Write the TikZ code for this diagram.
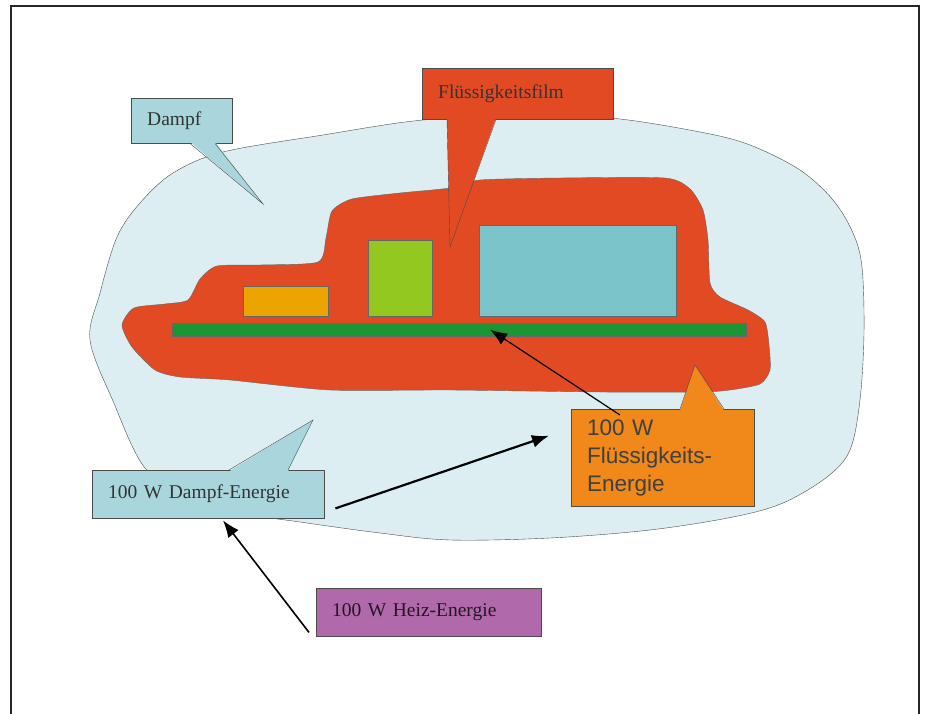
\documentclass[tikz,border=0pt]{standalone}
\usepackage{fontspec}
\setmainfont{Liberation Serif}
\newfontfamily\arialfont{Liberation Sans}
\usetikzlibrary{shapes,arrows.meta,calc}
\definecolor{vapour}{RGB}{221,238,242}
\definecolor{callcyan}{RGB}{168,214,220}
\definecolor{film}{RGB}{226,74,36}
\definecolor{partyellow}{RGB}{236,164,0}
\definecolor{partlime}{RGB}{146,200,32}
\definecolor{partteal}{RGB}{122,196,202}
\definecolor{plategreen}{RGB}{28,150,52}
\definecolor{callorange}{RGB}{240,136,26}
\definecolor{callpurple}{RGB}{176,106,172}
\tikzstyle{callbox} = [rectangle, draw=black!70, fill=callcyan, anchor=north west,
    inner xsep=16pt, inner ysep=0pt, align=left, text=black!80,
    font=\fontsize{19.5}{21}\selectfont]
\tikzstyle{part} = [rectangle, draw=black!60, anchor=north west, inner sep=0pt]
\tikzstyle{line} = [draw, -{Latex[length=17pt, width=13pt]}]

\begin{document}
\begin{tikzpicture}[x=1pt, y=-1pt]
		\useasboundingbox (0,0) rectangle (930,714);
		\draw[line width=1.2pt, black!85] (11,714) -- (11,6) -- (919,6) -- (919,714);

		% vapour around the board
		\filldraw[fill=vapour, draw=black!70, thin] plot[smooth cycle, tension=0.55] coordinates {
			(100,293) (117,237) (140,203) (173,173) (223,152) (323,135) (423,120)
			(520,117) (610,118) (700,132) (750,145) (800,170) (833,200) (853,233)
			(862,267) (864,333) (860,400) (850,450) (827,477) (783,503) (733,517)
			(650,530) (550,538) (450,540) (380,533) (300,522) (257,515) (190,495)
			(145,468) (113,401) (90,340)};
		% liquid film
		\filldraw[fill=film, draw=black!60, thin] plot[smooth cycle, tension=0.4] coordinates {
			(122,325) (134,308) (165,304) (188,300) (200,279) (217,266) (260,265)
			(318,262) (326,238) (332,211) (352,199) (400,193) (450,188) (480,180)
			(560,178) (665,178) (690,189) (703,210) (708,240) (710,283) (720,297)
			(748,310) (765,322) (769,345) (770,370) (760,384) (730,390) (700,392)
			(600,392) (450,390) (330,390) (230,380) (180,377) (155,370) (132,347)};

		% parts on the board
		\node[part, fill=partyellow, minimum width=85pt, minimum height=30pt] (small) at (243,286) {};
		\node[part, fill=partlime, minimum width=64pt, minimum height=76pt] (middle) at (368,240) {};
		\node[part, fill=partteal, minimum width=197pt, minimum height=91pt] (big) at (479,225) {};
		\node[part, fill=plategreen, minimum width=574pt, minimum height=13pt] (plate) at (172,323) {};

		% callouts
		\node[callbox, text width=69pt, minimum height=45pt] (dampf) at (131,98) {Dampf};
		\fill[callcyan] ($(dampf.south west)+(59,-1.5)$) -- (263,204) -- ($(dampf.south west)+(84,-1.5)$) -- cycle;
		\draw[black!70, thin] ($(dampf.south west)+(59,0)$) -- (263,204) -- ($(dampf.south west)+(84,0)$);

		\node[callbox, fill=film, text width=159pt, minimum height=51pt] (filmlabel) at (422,68) {Flüssigkeitsfilm};
		\fill[film] ($(filmlabel.south west)+(25,-1.5)$) -- (450,247) -- ($(filmlabel.south west)+(74,-1.5)$) -- cycle;
		\draw[black!70, thin] ($(filmlabel.south west)+(25,0)$) -- (450,247) -- ($(filmlabel.south west)+(74,0)$);

		\node[callbox, text width=200pt, minimum height=48pt] (steamenergy) at (92,470) {100 W Dampf-Energie};
		\fill[callcyan] ($(steamenergy.north west)+(137,1.5)$) -- (313,420) -- ($(steamenergy.north west)+(196,1.5)$) -- cycle;
		\draw[black!70, thin] ($(steamenergy.north west)+(137,0)$) -- (313,420) -- ($(steamenergy.north west)+(196,0)$);

		\node[callbox, fill=callorange, text width=151pt, minimum height=97pt, text=black!75,
			font=\arialfont\fontsize{22.5}{28}\selectfont] (liquid) at (571,409) {100 W\\Flüssigkeits-\\Energie};
		\fill[callorange] ($(liquid.north west)+(109,1.5)$) -- (695,365) -- ($(liquid.north west)+(153,1.5)$) -- cycle;
		\draw[black!70, thin] ($(liquid.north west)+(109,0)$) -- (695,365) -- ($(liquid.north west)+(153,0)$);

		\node[callbox, fill=callpurple, text width=193pt, minimum height=48pt, text=black!60!callpurple!50!black] (heat) at (316,588) {100 W Heiz-Energie};

		% energy flow
		\path [line, line width=1.2pt] ($(liquid.north west)+(49,6)$) -- ($(plate.center)+(31,0)$);
		\path [line, line width=2.2pt] ($(steamenergy.south east)+(11,-10)$) -- ($(liquid.west)+(-22,-22)$);
		\path [line, line width=1.6pt] ($(heat.south west)+(-7,-4)$) -- ($(steamenergy.south west)+(131,2)$);
	\end{tikzpicture}
\end{document}
